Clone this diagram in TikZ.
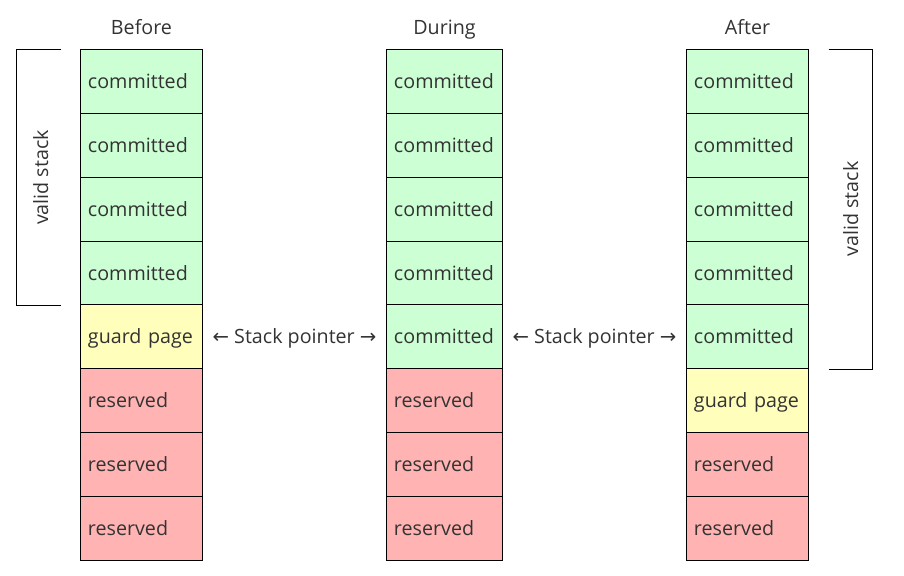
\documentclass[tikz,border=0pt]{standalone}
\usepackage{fontspec}
\setmainfont{Open Sans}
\newfontfamily\arrowfont{DejaVu Sans}
\usepackage{xcolor}
\usepackage{tikz}

\definecolor{commitc}{HTML}{CCFFD4}
\definecolor{guardc}{HTML}{FFFFBB}
\definecolor{resvc}{HTML}{FFB3B3}
\definecolor{ink}{HTML}{333333}

\newcommand{\spointer}{{\arrowfont ←} Stack pointer {\arrowfont →}}

\begin{document}
\begin{tikzpicture}[
    x=0.025cm,
    y=-0.025cm,
    font=\fontsize{14}{17}\selectfont,
    text=ink,
    every node/.append style={
        text height=1.1em,
        text depth=0.1em
    },
    cell/.style={
        draw=black,
        line width=0.7pt,
        minimum height=1.594cm,
        text width=#1,
        inner xsep=0.175cm,
        inner ysep=0pt,
        align=left
    },
    title/.style={
        inner sep=2pt
    },
    brace/.style={
        line width=0.7pt
    }
]

\useasboundingbox (0,0) rectangle (904,576);

% Columns
\foreach \t/\c [count=\i] in {committed/commitc,committed/commitc,committed/commitc,committed/commitc,guard page/guardc,reserved/resvc,reserved/resvc,reserved/resvc}
    \node[cell=2.675cm, fill=\c] (b\i) at (141.5,{50+(\i-0.5)*63.75}) {\t};

\foreach \t/\c [count=\i] in {committed/commitc,committed/commitc,committed/commitc,committed/commitc,committed/commitc,reserved/resvc,reserved/resvc,reserved/resvc}
    \node[cell=2.525cm, fill=\c] (d\i) at (444.5,{50+(\i-0.5)*63.75}) {\t};

\foreach \t/\c [count=\i] in {committed/commitc,committed/commitc,committed/commitc,committed/commitc,committed/commitc,guard page/guardc,reserved/resvc,reserved/resvc}
    \node[cell=2.675cm, fill=\c] (a\i) at (747.5,{50+(\i-0.5)*63.75}) {\t};

% Titles
\node[title] (tbefore) at (141.5,27) {Before};
\node[title] (tduring) at (444.5,27) {During};
\node[title] (tafter) at (747.5,27) {After};

% Stack pointers
\path (b5.east) -- node (sp1) {\spointer} (d5.west);
\path (d5.east) -- node (sp2) {\spointer} (a5.west);

% Valid stack
\draw[brace]
    ([xshift=-0.475cm]b1.north west) -- ++(-45,0)
    |- ([xshift=-0.475cm]b4.south west);
\node[rotate=90] (vsleft) at (41,177.5) {valid stack};

\draw[brace]
    ([xshift=0.5cm]a1.north east) -- ++(44,0)
    |- ([xshift=0.5cm]a5.south east);
\node[rotate=90] (vsright) at (851,209) {valid stack};

\end{tikzpicture}
\end{document}
